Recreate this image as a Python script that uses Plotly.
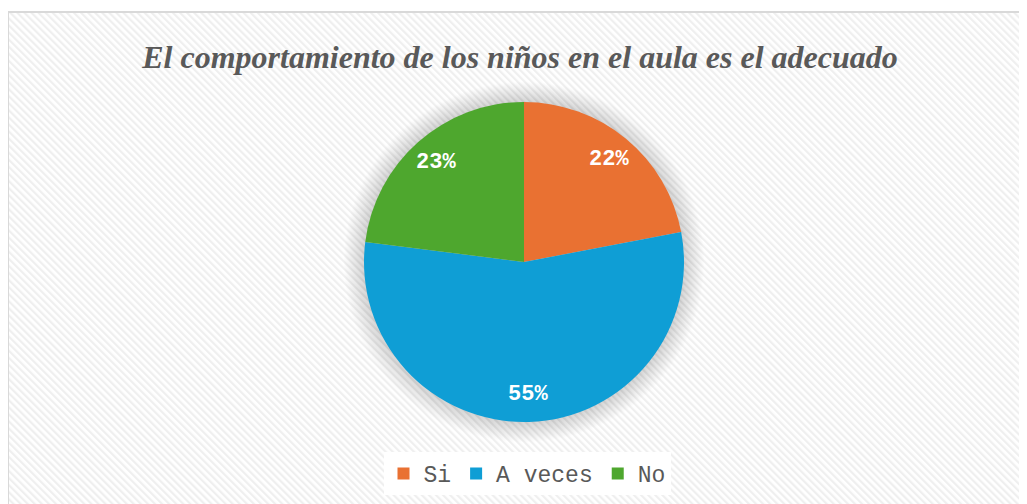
import base64
import math
import plotly.graph_objects as go

labels = ["Si", "A veces", "No"]
values = [22, 55, 23]
colors = ["#E97132", "#0F9ED5", "#4EA72E"]
title_text = "El comportamiento de los niños en el aula es el adecuado"

W, H = 1027, 504
OFF = 8  # page body margin


def px(x):
    return (x - OFF) / W


def py(y):
    return 1 - (y - OFF) / H


# striped background pattern (chart area)
svg = (
    '<svg xmlns="http://www.w3.org/2000/svg" width="%d" height="%d">'
    '<defs><pattern id="p" width="5" height="5" patternUnits="userSpaceOnUse" '
    'patternTransform="rotate(-45)">'
    '<rect width="5" height="5" fill="#ffffff"/>'
    '<rect width="2.2" height="5" fill="#efefef"/></pattern></defs>'
    '<rect width="100%%" height="100%%" fill="url(#p)"/></svg>'
) % (W, H)
src = "data:image/svg+xml;base64," + base64.b64encode(svg.encode()).decode()

cx, cy, r = 524, 262, 160

fig = go.Figure(
    go.Pie(
        labels=labels,
        values=values,
        marker=dict(colors=colors, line=dict(width=0)),
        sort=False,
        direction="clockwise",
        rotation=0,
        textinfo="none",
        hoverinfo="label+percent",
        domain=dict(x=[px(cx - r), px(cx + r)], y=[py(cy + r), py(cy - r)]),
    )
)

# percentage labels placed towards the outer part of each slice
total = sum(values)
annotations = []
cum = 0
for v in values:
    mid = (cum + v / 2) / total * 2 * math.pi
    cum += v
    rr = 0.83 * r
    ax = cx + rr * math.sin(mid)
    ay = cy - rr * math.cos(mid)
    annotations.append(dict(
        xref="paper", yref="paper", x=px(ax), y=py(ay),
        xanchor="center", yanchor="middle", showarrow=False,
        text="<b>%d%%</b>" % round(v / total * 100),
        font=dict(family="Courier New, Liberation Mono, monospace", size=22, color="white"),
    ))

shapes = []
# soft shadow around the pie
for k in range(20, 0, -1):
    rr = r + k
    shapes.append(dict(
        type="circle", xref="paper", yref="paper", layer="below",
        x0=px(cx - rr), x1=px(cx + rr), y0=py(cy + rr), y1=py(cy - rr),
        fillcolor="rgba(120,120,120,0.015)", line=dict(width=0),
    ))
# chart border
shapes.append(dict(
    type="rect", xref="paper", yref="paper", layer="above",
    x0=px(8), x1=px(W + 20), y0=py(H + 20), y1=py(12),
    line=dict(color="#d9d9d9", width=2), fillcolor="rgba(0,0,0,0)",
))

fig.update_layout(
    width=W, height=H,
    margin=dict(l=0, r=0, t=0, b=0),
    paper_bgcolor="white",
    plot_bgcolor="white",
    images=[dict(
        source=src, xref="paper", yref="paper", x=px(8), y=py(12),
        sizex=1, sizey=1, xanchor="left", yanchor="top",
        sizing="stretch", layer="below",
    )],
    shapes=shapes,
    annotations=annotations,
    title=dict(
        text="<i><b>" + title_text + "</b></i>",
        x=px(520), xanchor="center", y=py(57), yanchor="middle",
        font=dict(family="Liberation Serif", size=32, color="#595959"),
    ),
    showlegend=True,
    legend=dict(
        orientation="h", x=px(527), xanchor="center", y=py(452), yanchor="top",
        bgcolor="white",
        font=dict(family="Courier New, Liberation Mono, monospace", size=23, color="#595959"),
        itemwidth=30, traceorder="normal",
    ),
)

fig.write_html("out.html")
